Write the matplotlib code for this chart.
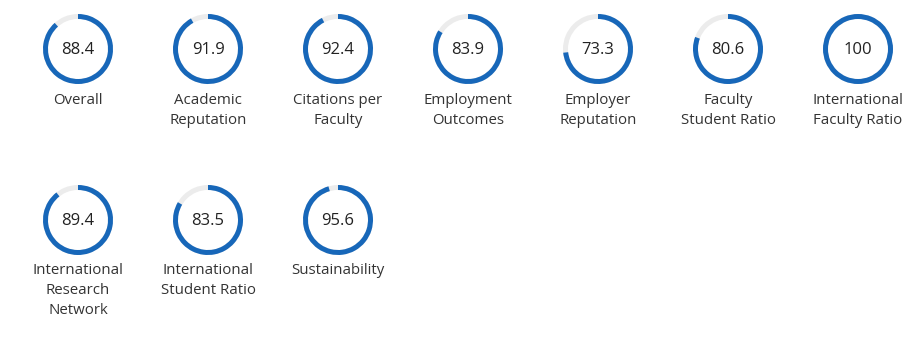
import numpy as np
import matplotlib.pyplot as plt
from matplotlib.patches import Wedge

labels = [
    "Overall", "Academic\nReputation", "Citations per\nFaculty",
    "Employment\nOutcomes", "Employer\nReputation", "Faculty\nStudent Ratio",
    "International\nFaculty Ratio", "International\nResearch\nNetwork",
    "International\nStudent Ratio", "Sustainability",
]
scores = [88.4, 91.9, 92.4, 83.9, 73.3, 80.6, 100, 89.4, 83.5, 95.6]

W, H = 922, 339
BLUE = "#1767b9"
TRACK = "#ececec"
TEXT = "#333333"

fig = plt.figure(figsize=(W / 100, H / 100), dpi=100)
ax = fig.add_axes([0, 0, 1, 1])
ax.set_xlim(0, W)
ax.set_ylim(0, H)
ax.axis("off")

per_row = 7
x0, dx = 78, 130
row_y = [49, 220]
r_out, ring_w = 35, 5

for i, (lab, val) in enumerate(zip(labels, scores)):
    cx = x0 + dx * (i % per_row)
    cy = H - row_y[i // per_row]
    ax.add_patch(Wedge((cx, cy), r_out, 0, 360, width=ring_w, color=TRACK, lw=0))
    # arc starts at 12 o'clock and runs clockwise
    ax.add_patch(Wedge((cx, cy), r_out, 90 - val * 3.6, 90, width=ring_w,
                       color=BLUE, lw=0))
    txt = f"{val:g}"
    ax.text(cx, cy - 1, txt, ha="center", va="center", fontsize=12,
            color="#222222", family="Open Sans")
    for j, line in enumerate(lab.split("\n")):
        ax.text(cx, cy - 51 - 20 * j, line, ha="center", va="center",
                fontsize=10.8, color=TEXT, family="Open Sans")

fig.savefig("out.png", dpi=100, facecolor="w")
